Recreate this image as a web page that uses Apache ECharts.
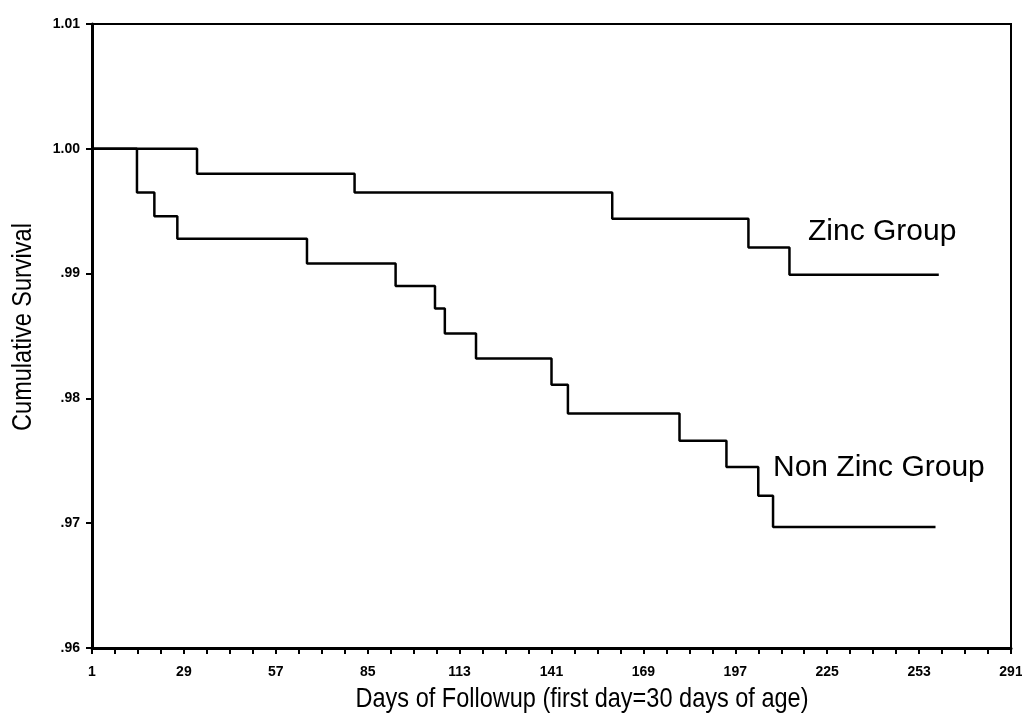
<!DOCTYPE html>
<html>
<head>
<meta charset="utf-8">
<script src="https://cdn.jsdelivr.net/npm/echarts@6/dist/echarts.min.js"></script>
<style>
  html, body { margin: 0; padding: 0; background: #fff; overflow: hidden; }
  #chart { width: 1022px; height: 714px; }
</style>
</head>
<body>
<div id="chart"></div>
<script>
// ---- Data ----
const zincDays = [1, 33, 81, 159.5, 201, 213.5, 259];
const zincSurv = [1.000, 0.998, 0.9965, 0.9944, 0.9921, 0.9899, 0.9899];

const nonZincDays = [1, 14.7, 20, 27, 66.5, 93.5, 105.5, 108.5, 118, 141, 146, 180, 194.3, 204, 208.5, 258];
const nonZincSurv = [1.000, 0.9965, 0.9946, 0.9928, 0.9908, 0.9890, 0.9872, 0.9852, 0.9832, 0.9811, 0.9788, 0.9766, 0.9745, 0.9722, 0.9697, 0.9697];

const xTickLabels = ['1', '29', '57', '85', '113', '141', '169', '197', '225', '253', '291'];
const yTickLabels = ['.96', '.97', '.98', '.99', '1.00', '1.01'];

const seriesNames = ['Zinc Group', 'Non Zinc Group'];
const xTitle = 'Days of Followup (first day=30 days of age)';
const yTitle = 'Cumulative Survival';

// day 1 sits at the axis origin; the axis runs in steps of 28 days
const DAY0 = 1;
const toPairs = (days, vals) => days.map((d, i) => [d - DAY0, vals[i]]);

const chart = echarts.init(document.getElementById('chart'), null, { renderer: 'canvas' });

const tickFont = { fontFamily: '"Liberation Sans", Arial, sans-serif', fontSize: 14, fontWeight: 'bold', color: '#000' };
const titleFontStr = '28px "Liberation Sans", Arial, sans-serif';
const labelFontStr = '30px "Liberation Sans", Arial, sans-serif';

chart.setOption({
  animation: false,
  backgroundColor: '#fff',
  grid: {
    left: 92, right: 11, top: 24, bottom: 66,
    outerBoundsMode: 'none',
    containLabel: false,
    show: true, borderColor: '#000', borderWidth: 2, backgroundColor: 'transparent'
  },
  xAxis: {
    type: 'value',
    min: 0, max: 280, interval: 28,
    axisLine: { show: true, lineStyle: { color: '#000', width: 3 } },
    axisTick: { show: true, length: 6, lineStyle: { color: '#000', width: 2 } },
    minorTick: { show: true, splitNumber: 4, length: 6, lineStyle: { color: '#000', width: 2 } },
    splitLine: { show: false },
    minorSplitLine: { show: false },
    axisLabel: Object.assign({}, tickFont, {
      margin: 17,
      formatter: (v) => xTickLabels[Math.round(v / 28)] || ''
    })
  },
  yAxis: {
    type: 'value',
    min: 0.96, max: 1.01, interval: 0.01,
    axisLine: { show: true, lineStyle: { color: '#000', width: 3 } },
    axisTick: { show: true, length: 6, lineStyle: { color: '#000', width: 2 } },
    splitLine: { show: false },
    axisLabel: Object.assign({}, tickFont, {
      margin: 12,
      formatter: (v) => yTickLabels[Math.round((v - 0.96) / 0.01)] || ''
    })
  },
  series: [
    {
      name: seriesNames[0],
      type: 'line',
      step: 'end',
      data: toPairs(zincDays, zincSurv),
      showSymbol: false,
      lineStyle: { color: '#000', width: 2.5 }
    },
    {
      name: seriesNames[1],
      type: 'line',
      step: 'end',
      data: toPairs(nonZincDays, nonZincSurv),
      showSymbol: false,
      lineStyle: { color: '#000', width: 2.5 }
    }
  ],
  graphic: [
    {
      type: 'text', x: 582, y: 699, scaleX: 0.84,
      style: { text: xTitle, fill: '#000', font: titleFontStr, textAlign: 'center', textVerticalAlign: 'middle' }
    },
    {
      type: 'text', x: 23, y: 327, rotation: Math.PI / 2, scaleX: 0.84,
      style: { text: yTitle, fill: '#000', font: titleFontStr, textAlign: 'center', textVerticalAlign: 'middle' }
    },
    {
      type: 'text', x: 808, y: 232,
      style: { text: seriesNames[0], fill: '#000', font: labelFontStr, textAlign: 'left', textVerticalAlign: 'middle' }
    },
    {
      type: 'text', x: 773, y: 468,
      style: { text: seriesNames[1], fill: '#000', font: labelFontStr, textAlign: 'left', textVerticalAlign: 'middle' }
    }
  ]
});
</script>
</body>
</html>
